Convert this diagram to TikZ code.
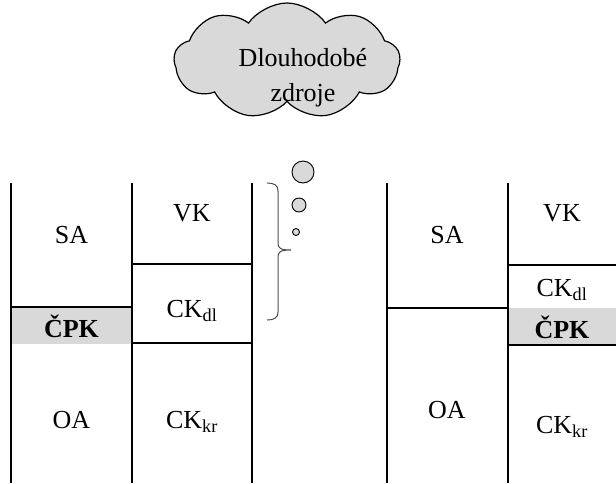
\documentclass[tikz,border=0pt]{standalone}
\usepackage{fontspec}
\setmainfont{Liberation Serif}
\usetikzlibrary{shapes.symbols}
\tikzset{
x=1pt, y=-1pt, % pixel-like units, y grows downwards
tableline/.style={line width=2pt}, % the lines of both balances
shaded/.style={fill=black!15}, % gray cells, cloud and bubbles
lbl/.style={font=\fontsize{26}{30}\selectfont}, % labels in the cells
bubble/.style={circle, draw, shaded, line width=0.9pt, inner sep=0pt}, % the thought bubbles
}

\begin{document}
\begin{tikzpicture}
    \useasboundingbox (0,0) rectangle (616,483);
    % gray cells
    \fill[shaded] (11,307) rectangle (132,344);
    \fill[shaded] (508,308) rectangle (616,345);
    % left balance
    \draw[tableline] (11,183) -- (11,483) (132,183) -- (132,483) (252,183) -- (252,483);
    \draw[tableline] (132,264) -- (252,264) (11,307) -- (132,307) (132,343) -- (252,343);
    % right balance
    \draw[tableline] (387,183) -- (387,483) (508,183) -- (508,483);
    \draw[tableline] (508,265) -- (616,265) (387,308) -- (508,308) (508,345) -- (616,345);
    % labels, left
    \node[lbl] (saL) at (71.5,235) {SA};
    \node[lbl] (vkL) at (192,213) {VK};
    \node[lbl] (ckdlL) at (192,311) {CK\textsubscript{dl}};
    \node[lbl] (cpkL) at (71.5,326) {\textbf{ČPK}};
    \node[lbl] (oaL) at (71.5,420) {OA};
    \node[lbl] (ckkrL) at (192,422) {CK\textsubscript{kr}};
    % labels, right
    \node[lbl] (saR) at (447,235) {SA};
    \node[lbl] (vkR) at (562,213) {VK};
    \node[lbl] (ckdlR) at (562,290) {CK\textsubscript{dl}};
    \node[lbl] (cpkR) at (562,327) {\textbf{ČPK}};
    \node[lbl] (oaR) at (447,410) {OA};
    \node[lbl] (ckkrR) at (562,427) {CK\textsubscript{kr}};
    % brace and bubbles
    \coordinate (bracetop) at (267,183);
    \coordinate (bracetip) at (291,250);
    \coordinate (bracebot) at (267,320);
    \draw[black!70, line width=1pt]
      (bracetop) .. controls (274,183) and (278,185) .. (278,191) -- (278,243)
      .. controls (278,248) and (280,250) .. (bracetip)
      .. controls (280,250) and (278,252) .. (278,257) -- (278,312)
      .. controls (278,318) and (274,320) .. (bracebot);
    \node[bubble, minimum size=7pt] (b1) at (296,232) {};
    \node[bubble, minimum size=14pt] (b2) at (299,205) {};
    \node[bubble, minimum size=22pt] (b3) at (303,172) {};
    % cloud
    \node[cloud, draw, shaded, line width=1.2pt, cloud puffs=9, cloud puff arc=110, aspect=2,
      minimum width=226pt, minimum height=116pt, inner sep=0pt] (cloud) at (287,61) {};
    \node[align=center, font=\fontsize{26}{35}\selectfont] (zdroje) at (303,78) {Dlouhodobé\\zdroje};
\end{tikzpicture}
\end{document}
